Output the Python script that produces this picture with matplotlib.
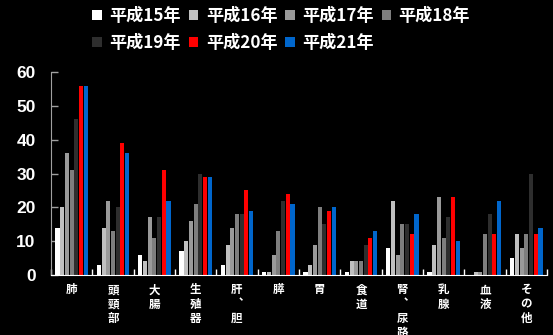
import numpy as np
import matplotlib
matplotlib.use("Agg")
import matplotlib.pyplot as plt
from matplotlib.patches import Patch
from matplotlib.ticker import FixedLocator

plt.rcParams['font.family'] = ['Noto Sans CJK JP', 'DejaVu Sans']

categories = ['肺', '頭\n頸\n部', '大\n腸', '生\n殖\n器', '肝\n︑\n胆', '膵', '胃',
              '食\n道', '腎\n︑\n尿\n路', '乳\n腺', '血\n液', 'そ\nの\n他']
series_names = ['平成15年', '平成16年', '平成17年', '平成18年', '平成19年', '平成20年', '平成21年']
h15 = [14, 3, 6, 7, 3, 1, 1, 1, 8, 1, 0, 5]
h16 = [20, 14, 4, 10, 9, 1, 3, 4, 22, 9, 1, 12]
h17 = [36, 22, 17, 16, 14, 6, 9, 4, 6, 23, 1, 8]
h18 = [31, 13, 11, 21, 18, 13, 20, 4, 15, 11, 12, 12]
h19 = [46, 20, 17, 30, 18, 22, 15, 9, 15, 17, 18, 30]
h20 = [56, 39, 31, 29, 25, 24, 19, 11, 12, 23, 12, 12]
h21 = [56, 36, 22, 29, 19, 21, 20, 13, 18, 10, 22, 14]
series = [h15, h16, h17, h18, h19, h20, h21]
colors = ['#FFFFFF', '#C0C0C0', '#9A9A9A', '#7E7E7E', '#2E2E2E', '#FF0000', '#0066CC']
yticks = [0, 10, 20, 30, 40, 50, 60]

W, H = 553, 335
fig = plt.figure(figsize=(W / 100, H / 100), dpi=100, facecolor='black')
ax = fig.add_axes([51 / W, (H - 275) / H, (547 - 51) / W, (275 - 72) / H])
ax.set_facecolor('black')

n = len(series)
x = np.arange(len(categories))
group = 0.8
bw = group / n
for k, (vals, col) in enumerate(zip(series, colors)):
    offs = -group / 2 + bw * (k + 0.5)
    ax.bar(x + offs, vals, width=bw * 0.85, color=col, linewidth=0, zorder=2)

ax.set_xlim(-0.5, len(categories) - 0.5)
ax.set_ylim(0, 60)
ax.set_yticks(yticks)
ax.set_yticklabels([str(v) for v in yticks], fontfamily='Liberation Sans',
                   fontweight='bold', fontsize=12.5, color='white')
ax.tick_params(axis='y', direction='in', length=5, width=1, color='#A0A0A0', pad=11)

ax.set_xticks(x)
ax.set_xticklabels(categories, fontsize=8.3, fontweight='bold', color='white',
                   linespacing=1.12, va='top')
ax.tick_params(axis='x', which='major', length=0, pad=6)
ax.xaxis.set_minor_locator(FixedLocator(np.arange(len(categories) + 1) - 0.5))
ax.tick_params(axis='x', which='minor', direction='in', length=4, width=1, color='white')

for s in ['top', 'right']:
    ax.spines[s].set_visible(False)
ax.spines['left'].set_color('#A0A0A0')
ax.spines['bottom'].set_color('white')
ax.spines['bottom'].set_zorder(3)

# legend fills column-wise; order entries so rows read 15..18 then 19..21
order = [0, 4, 1, 5, 2, 6, 3]
handles = [Patch(facecolor=colors[i], edgecolor='none') for i in order]
labels = [series_names[i] for i in order]
leg = fig.legend(handles, labels, loc='upper left', bbox_to_anchor=(77 / W, 1 + 8 / H),
                 ncol=4, frameon=False, handlelength=0.55, handleheight=0.55,
                 handletextpad=0.45, columnspacing=0.45, labelspacing=0.5,
                 prop={'family': 'Noto Sans CJK JP', 'weight': 'bold', 'size': 12.3})
for t in leg.get_texts():
    t.set_color('white')

fig.savefig('out.png', dpi=100, facecolor='black')
